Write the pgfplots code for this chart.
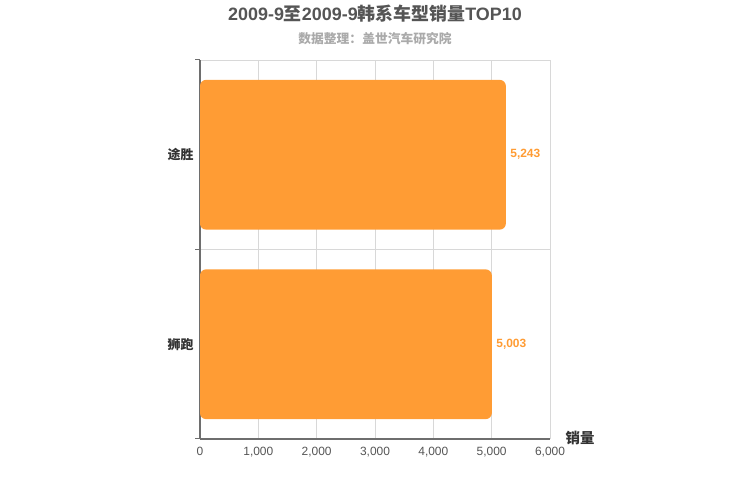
\documentclass[border=0pt]{standalone}
\usepackage{pgfplots}
\pgfplotsset{compat=1.18}
\usepackage{fontspec}
\setmainfont{Liberation Sans}
\newfontfamily\cjk{Noto Sans CJK SC}
\definecolor{barc}{HTML}{FF9C34}
\definecolor{gridc}{HTML}{D8D8D8}
\definecolor{axc}{HTML}{6E6E6E}
\definecolor{ticklab}{HTML}{555555}
\definecolor{titlec}{HTML}{555555}
\definecolor{subc}{HTML}{AAAAAA}
\definecolor{labc}{HTML}{333333}

\begin{document}
\begin{tikzpicture}
\path[use as bounding box] (0bp,0bp) rectangle (750bp,500bp);
% title and subtitle
\node[font=\bfseries\fontsize{18}{20}\selectfont, text=titlec] at (375bp,486bp)
  {2009-9{\cjk 至}2009-9{\cjk 韩系车型销量}TOP10};
\node[font=\bfseries\fontsize{12.8}{14}\selectfont, text=subc] at (375bp,461bp)
  {\cjk 数据整理：盖世汽车研究院};

\begin{axis}[
  at={(200bp,61bp)}, anchor=south west,
  scale only axis, width=350bp, height=379bp,
  xbar, bar width=0.79,
  xmin=0, xmax=6000, ymin=-0.5, ymax=1.5,
  xtick={0,1000,...,6000},
  scaled x ticks=false,
  /pgf/number format/1000 sep={,},
  /pgf/number format/assume math mode=true,
  ytick={0,1},
  yticklabels={狮跑,途胜},
  minor ytick={-0.5,0.5,1.5},
  xmajorgrids, yminorgrids,
  grid style={gridc, line width=0.8bp},
  minor grid style={gridc, line width=0.8bp},
  axis lines=left,
  axis line style={axc, line width=1.3bp, -},
  tick align=outside,
  major tick length=0pt,
  minor tick length=5bp,
  minor y tick style={axc, line width=1bp},
  xticklabel style={font=\fontsize{12}{14}\selectfont, text=ticklab, yshift=-5bp},
  yticklabel style={font=\cjk\bfseries\fontsize{13}{15}\selectfont, text=labc, xshift=-3bp},
  nodes near coords,
  point meta=x,
  nodes near coords style={font=\bfseries\fontsize{12}{14}\selectfont, text=barc, anchor=west, xshift=1bp},
]
\addplot[fill=barc, draw=none, rounded corners=6bp] coordinates {(5003,0) (5243,1)};
\end{axis}

\node[font=\cjk\bfseries\fontsize{14.5}{16}\selectfont, text=labc] at (580bp,62bp) {销量};
\end{tikzpicture}
\end{document}
